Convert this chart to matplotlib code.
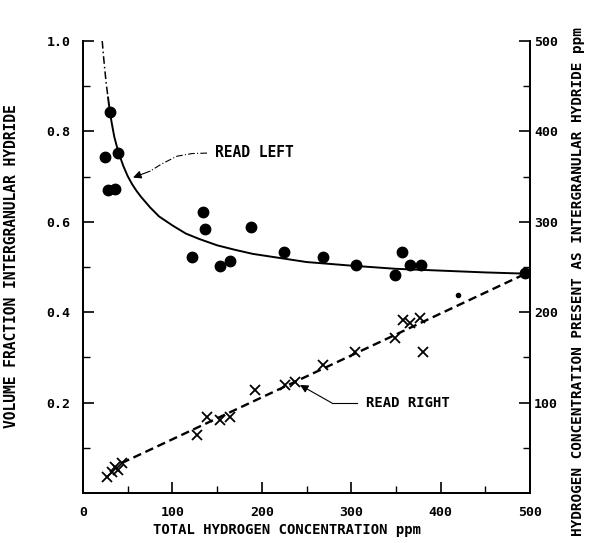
"""
Volume fraction of intergranular hydride vs total hydrogen concentration
"""
import matplotlib
matplotlib.use('Agg')
import matplotlib.pyplot as plt

plt.rcParams['font.family'] = ['DejaVu Sans Mono', 'DejaVu Sans']
plt.rcParams['font.weight'] = 'bold'

# volume fraction points (read left)
frac_x = [24.6, 30.2, 39.6, 28, 36, 122, 134.6, 137, 153, 164, 188, 225,
          268.5, 305, 349, 357, 366, 378, 494]
frac_y = [0.743, 0.843, 0.752, 0.670, 0.672, 0.522, 0.622, 0.584, 0.502, 0.513,
          0.589, 0.533, 0.522, 0.504, 0.482, 0.533, 0.504, 0.504, 0.487]

# intergranular hydrogen points (read right, ppm)
ppm_x = [26.8, 32.4, 35.8, 39, 43.6, 127.5, 138.7, 153, 164, 192, 226, 237,
         268.5, 304, 349, 358, 366, 377, 380]
ppm_y = [17.7, 23, 29, 25, 33, 64, 84, 81, 84, 114, 119, 123,
         142, 156, 171, 191, 188, 194, 156]

# odd small point near the dashed line
dot_x = [419.5]
dot_y = [219]

# hand drawn curve for the volume fraction
curve_dd_x = [21.5, 23, 24.5, 26, 28]
curve_dd_y = [1.0, 0.965, 0.935, 0.905, 0.875]
curve_x = [28, 30, 32, 35, 37, 40, 45, 50, 55, 60, 65, 75, 85, 100, 115, 130,
           150, 170, 190, 220, 250, 300, 350, 400, 450, 500]
curve_y = [0.875, 0.845, 0.820, 0.788, 0.773, 0.752, 0.724, 0.701, 0.683,
           0.668, 0.655, 0.632, 0.612, 0.592, 0.574, 0.562, 0.548, 0.538,
           0.529, 0.520, 0.511, 0.503, 0.496, 0.492, 0.488, 0.485]

# straight dashed line for ppm
line_x = [43, 497]
line_y = [33, 243.5]

fig = plt.figure(figsize=(5.91, 5.43), dpi=100)
ax = fig.add_axes([83 / 591, 50 / 543, 447 / 591, 452 / 543])
ax2 = ax.twinx()

ax.set_xlim(0, 500)
ax.set_ylim(0, 1.0)
ax2.set_ylim(0, 500)

# curve + points on left axis
ax.plot(curve_dd_x, curve_dd_y, color='black', lw=1.1, linestyle=(0, (5, 2, 1, 2)))
ax.plot(curve_x, curve_y, color='black', lw=1.4)
ax.plot(frac_x, frac_y, 'o', color='black', ms=7.5)

# dashed line + crosses on right axis
ax2.plot(line_x, line_y, color='black', lw=1.7, dashes=(3.6, 2.0))
ax2.plot(ppm_x, ppm_y, 'x', color='black', ms=7, mew=1.3)
ax2.plot(dot_x, dot_y, 'o', color='black', ms=3)

# annotations
ax.plot([138.7, 122, 105, 88, 75], [0.752, 0.751, 0.745, 0.728, 0.712],
        color='black', lw=0.8, linestyle=(0, (6, 2, 1, 2)))
ax.annotate('', xy=(56, 0.698), xytext=(75, 0.712),
            arrowprops=dict(arrowstyle='-|>', color='black', lw=0.8,
                            mutation_scale=12, shrinkA=0, shrinkB=0))
ax.text(147.7, 0.754, 'READ LEFT', fontsize=10.5, va='center', ha='left')

ax.plot([306.5, 278.5], [0.199, 0.199], color='black', lw=0.8)
ax.annotate('', xy=(242.7, 0.239), xytext=(278.5, 0.199),
            arrowprops=dict(arrowstyle='-|>', color='black', lw=0.8,
                            mutation_scale=12, shrinkA=0, shrinkB=0))
ax.text(316.6, 0.199, 'READ RIGHT', fontsize=10, va='center', ha='left')

# axes styling
for a in (ax, ax2):
    a.spines['top'].set_visible(False)
    for s in ('left', 'right', 'bottom'):
        a.spines[s].set_linewidth(1.3)

ax.set_xticks([0, 100, 200, 300, 400, 500])
ax.set_xticks([50, 150, 250, 350, 450], minor=True)
ax.set_yticks([0.2, 0.4, 0.6, 0.8, 1.0])
ax.set_yticklabels(['0.2', '0.4', '0.6', '0.8', '1.0'])
ax.set_yticks([0.1, 0.3, 0.5, 0.7, 0.9], minor=True)
ax2.set_yticks([100, 200, 300, 400, 500])
ax2.set_yticks([50, 150, 250, 350, 450], minor=True)

ax.tick_params(axis='x', which='major', direction='in', length=8, width=1.2,
               labelsize=9.5, pad=9)
ax.tick_params(axis='x', which='minor', direction='in', length=5, width=1.0)
ax.tick_params(axis='y', which='major', direction='in', length=8, width=1.2,
               labelsize=9.5, pad=9)
ax.tick_params(axis='y', which='minor', direction='in', length=5, width=1.0)
ax2.tick_params(axis='y', which='major', direction='in', length=8, width=1.2,
                labelsize=9.5, pad=3)
ax2.tick_params(axis='y', which='minor', direction='in', length=5, width=1.0)

fig.text(287 / 591, 1 - 530 / 543, 'TOTAL HYDROGEN CONCENTRATION ppm',
         fontsize=10, ha='center', va='center')
fig.text(12 / 591, 1 - 266 / 543, 'VOLUME FRACTION INTERGRANULAR HYDRIDE',
         fontsize=10.5, ha='center', va='center', rotation=90)
fig.text(578 / 591, 1 - 282 / 543,
         'HYDROGEN CONCENTRATION PRESENT AS INTERGRANULAR HYDRIDE ppm',
         fontsize=10.4, ha='center', va='center', rotation=90)

fig.savefig('out.png', dpi=100)
plt.close(fig)
